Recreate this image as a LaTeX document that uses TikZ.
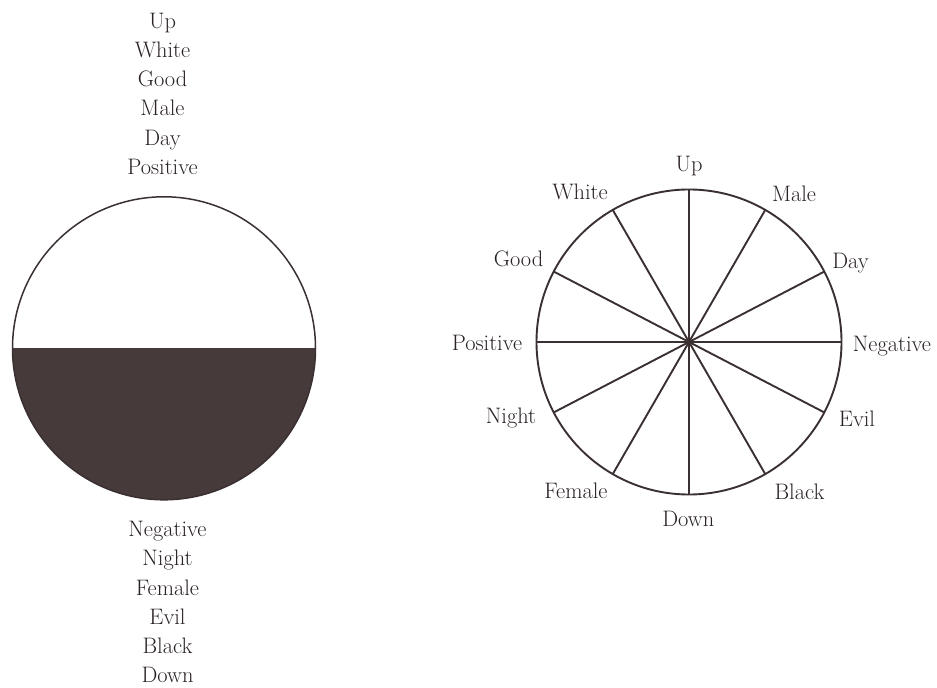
\documentclass[tikz,border=0pt]{standalone}
\usepackage{fontspec}
\usetikzlibrary{calc}
\definecolor{ink}{RGB}{58,48,49}
\definecolor{textink}{RGB}{42,34,35}
\definecolor{darkfill}{RGB}{70,58,58}
\begin{document}
\begin{tikzpicture}[x=1pt,y=1pt,
  lbl/.style={text=textink,font=\fontsize{22.4}{26}\selectfont,anchor=base,inner sep=0pt},
  leftrim/.style={draw=ink,line width=1.5pt},
  rightrim/.style={draw=ink,line width=1.9pt},
  spoke/.style={draw=ink,line width=1.9pt}]
\useasboundingbox (0,0) rectangle (937,688);
\fill[white] (0,0) rectangle (937,688);
% ---------- left circle ----------
\coordinate (L) at (164,339.7);
\coordinate (LW) at (12.5,339.7);
\coordinate (LE) at (315.5,339.7);
\fill[darkfill] (LW) arc[start angle=180,end angle=360,radius=151.5pt] -- cycle;
\draw[leftrim] (L) circle[radius=151.5pt];
\draw[draw=darkfill,line width=1.2pt] (LW) -- (LE);
% top labels
\node[lbl] (t1) at (162.5,659.7) {Up};
\node[lbl] (t2) at (162.5,630.5) {White};
\node[lbl] (t3) at (162.5,601.3) {Good};
\node[lbl] (t4) at (162.5,572.1) {Male};
\node[lbl] (t5) at (162.5,542.9) {Day};
\node[lbl] (t6) at (162.5,513.7) {Positive};
% bottom labels
\node[lbl] (b1) at (167.5,151.3) {Negative};
\node[lbl] (b2) at (167.5,122.1) {Night};
\node[lbl] (b3) at (167.5,92.9) {Female};
\node[lbl] (b4) at (167.5,63.7) {Evil};
\node[lbl] (b5) at (167.5,34.5) {Black};
\node[lbl] (b6) at (167.5,5.3) {Down};
% ---------- right wheel ----------
\coordinate (R) at (689,346);
\foreach \a/\n in {90/up,60/male,27.5/day,0/neg,-27.5/evil,-60/black,-90/down,-120/female,-152.5/night,180/pos,152.5/good,120/white}{
  \coordinate (e-\n) at ($(R)+(\a:152.5pt)$);
  \draw[spoke] (R) -- (e-\n);
}
\draw[rightrim] (R) circle[radius=152.5pt];
\node[lbl] (r-up) at (689,516.3) {Up};
\node[lbl] (r-white) at (580,488) {White};
\node[lbl] (r-male) at (794,486.3) {Male};
\node[lbl] (r-good) at (518.5,421.3) {Good};
\node[lbl] (r-day) at (850.5,419.7) {Day};
\node[lbl] (r-pos) at (487,337.3) {Positive};
\node[lbl] (r-neg) at (892,336.3) {Negative};
\node[lbl] (r-night) at (511,264) {Night};
\node[lbl] (r-evil) at (857,261.3) {Evil};
\node[lbl] (r-female) at (576,189.7) {Female};
\node[lbl] (r-black) at (799.5,188) {Black};
\node[lbl] (r-down) at (688.3,161.3) {Down};
\end{tikzpicture}
\end{document}
